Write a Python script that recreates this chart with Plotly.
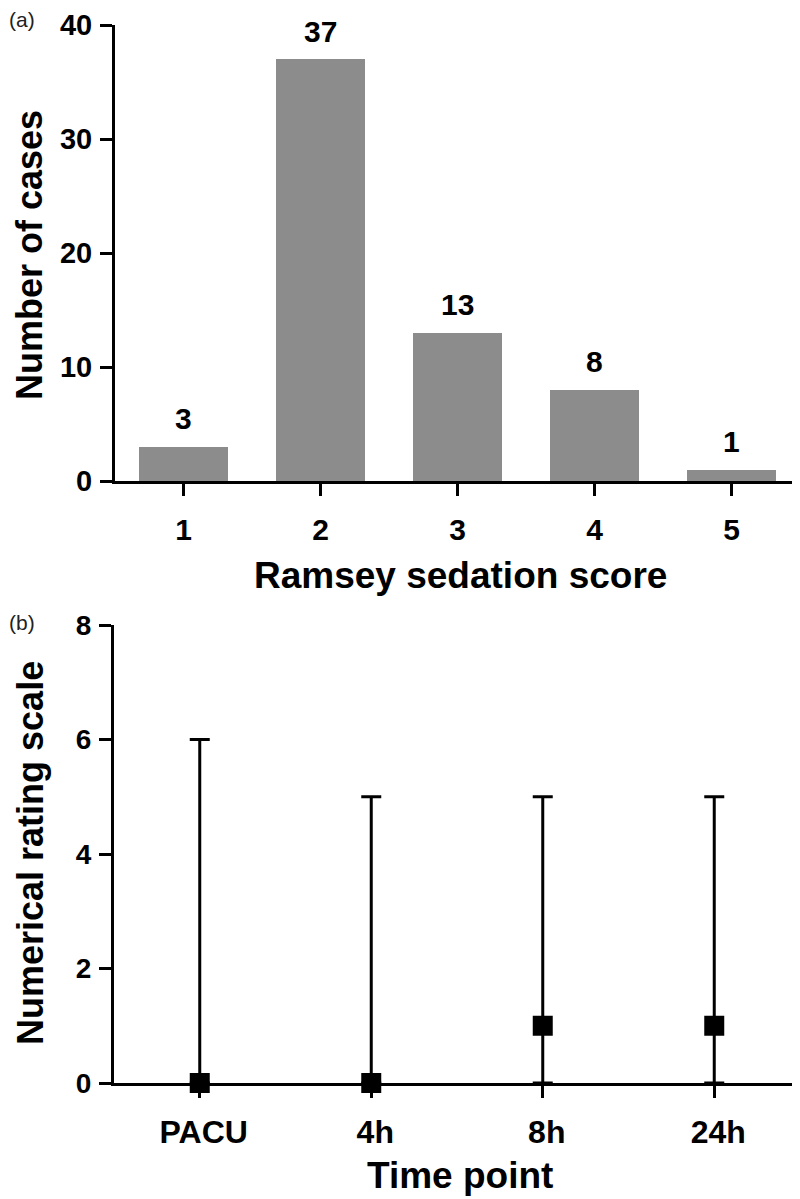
import plotly.graph_objects as go

# ---- Data ----
ramsey_scores = [1, 2, 3, 4, 5]
ramsey_counts = [3, 37, 13, 8, 1]

time_points = ["PACU", "4h", "8h", "24h"]
nrs_median = [0, 0, 1, 1]
nrs_min = [0, 0, 0, 0]
nrs_max = [6, 5, 5, 5]

FONT = "Arial, Liberation Sans, sans-serif"
OFF = 8                     # page body margin
W, H = 800 - OFF, 1199 - OFF
BAR_COLOR = "#8c8c8c"

def px(pix):
    return (pix - OFF) / W

def py(pix):
    return 1 - (pix - OFF) / H

fig = go.Figure()

fig.add_trace(go.Bar(
    x=ramsey_scores, y=ramsey_counts, width=0.655,
    marker=dict(color=BAR_COLOR, line=dict(width=0)),
    xaxis="x", yaxis="y", showlegend=False,
))

err_plus = [mx - md for mx, md in zip(nrs_max, nrs_median)]
err_minus = [md - mn for md, mn in zip(nrs_median, nrs_min)]
fig.add_trace(go.Scatter(
    x=time_points, y=nrs_median, mode="markers",
    marker=dict(symbol="square", size=20, color="black"),
    error_y=dict(type="data", symmetric=False, array=err_plus, arrayminus=err_minus,
                 color="black", thickness=3, width=10),
    xaxis="x2", yaxis="y2", showlegend=False, cliponaxis=False,
))

# value labels above the bars
for xv, yv in zip(ramsey_scores, ramsey_counts):
    fig.add_annotation(x=xv, y=yv, xref="x", yref="y", text=str(yv),
                       showarrow=False, yshift=28, yanchor="middle",
                       font=dict(family=FONT, size=30, color="black", weight="bold"))

axis_common = dict(
    showline=True, linecolor="black", linewidth=3, mirror=False,
    ticks="outside", ticklen=12, tickwidth=3, tickcolor="black",
    showgrid=False, zeroline=False, automargin=False,
)

fig.update_layout(
    template="none",
    width=W, height=H,
    margin=dict(l=0, r=0, t=0, b=0, pad=0, autoexpand=False),
    paper_bgcolor="white", plot_bgcolor="white",
    showlegend=False,
    bargap=0,
    xaxis=dict(domain=[px(115), 1.0], range=[0.5, 5.5], anchor="y",
               tickvals=ramsey_scores, ticktext=[str(v) for v in ramsey_scores],
               tickfont=dict(family=FONT, size=30, color="black", weight="bold"),
               ticklabelstandoff=8, **axis_common),
    yaxis=dict(domain=[py(481), py(25)], range=[0, 40], anchor="x",
               tickvals=[0, 10, 20, 30, 40],
               tickfont=dict(family=FONT, size=29, color="black", weight="bold"),
               ticklabelstandoff=2, **axis_common),
    xaxis2=dict(domain=[px(114), 1.0], range=[-0.5, 3.5], anchor="y2",
                type="category",
                tickfont=dict(family=FONT, size=32, color="black", weight="bold"),
                ticklabelstandoff=7, ticklabelshift=4, **axis_common),
    yaxis2=dict(domain=[py(1083), py(625)], range=[0, 8], anchor="x2",
                tickvals=[0, 2, 4, 6, 8],
                tickfont=dict(family=FONT, size=28, color="black", weight="bold"),
                ticklabelstandoff=2, **axis_common),
)

title_font = dict(family=FONT, size=37, color="black", weight="bold")
ytitle_font = dict(family=FONT, size=36, color="black", weight="bold")
fig.add_annotation(x=px(460), y=py(575), xref="paper", yref="paper",
                   text="Ramsey sedation score", showarrow=False,
                   xanchor="center", yanchor="middle", font=title_font)
fig.add_annotation(x=px(460), y=py(1175), xref="paper", yref="paper",
                   text="Time point", showarrow=False,
                   xanchor="center", yanchor="middle", font=title_font)
fig.add_annotation(x=px(30), y=py(255), xref="paper", yref="paper",
                   text="Number of cases", showarrow=False, textangle=-90,
                   xanchor="center", yanchor="middle", font=ytitle_font)
fig.add_annotation(x=px(30), y=py(853), xref="paper", yref="paper",
                   text="Numerical rating scale", showarrow=False, textangle=-90,
                   xanchor="center", yanchor="middle", font=ytitle_font)

panel_font = dict(family=FONT, size=21, color="#222222")
fig.add_annotation(x=px(22), y=py(20), xref="paper", yref="paper", text="(a)",
                   showarrow=False, xanchor="center", yanchor="middle", font=panel_font)
fig.add_annotation(x=px(22), y=py(622), xref="paper", yref="paper", text="(b)",
                   showarrow=False, xanchor="center", yanchor="middle", font=panel_font)

fig.write_html("out.html")
